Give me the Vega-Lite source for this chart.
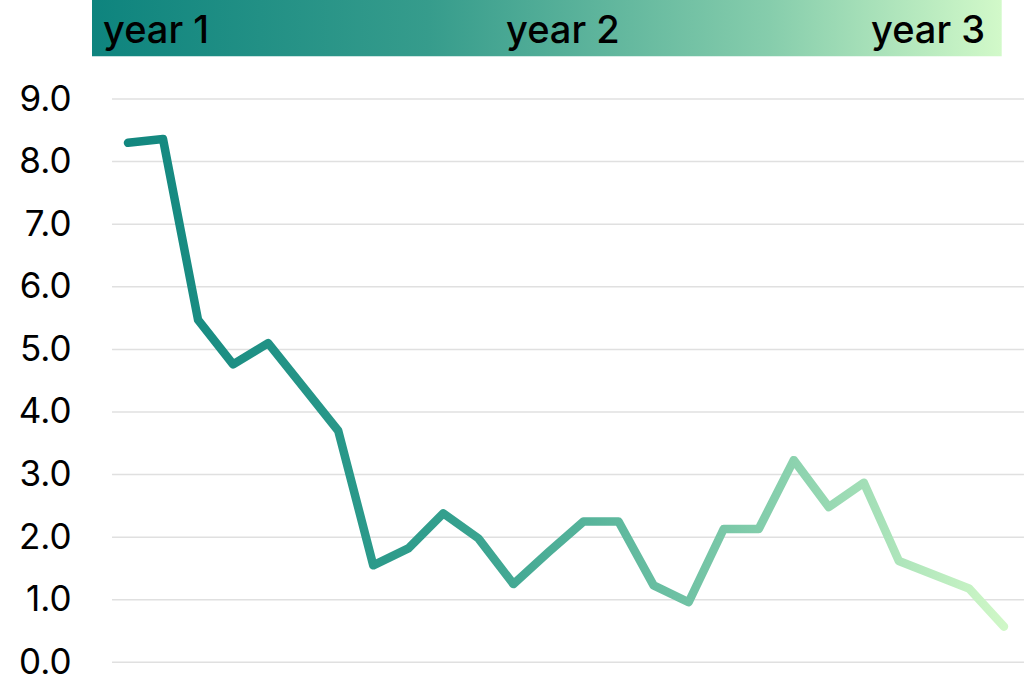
{
  "$schema": "https://vega.github.io/schema/vega-lite/v6.json",
  "width": 932,
  "height": 698,
  "autosize": {"type": "none"},
  "padding": {"left": 92, "top": 0, "right": 0, "bottom": 0},
  "background": "white",
  "config": {"view": {"stroke": null}, "font": "Inter"},
  "datasets": {
    "series": [
      {"x": 0, "y": 8.30}, {"x": 1, "y": 8.36}, {"x": 2, "y": 5.47}, {"x": 3, "y": 4.76},
      {"x": 4, "y": 5.10}, {"x": 5, "y": 4.40}, {"x": 6, "y": 3.70}, {"x": 7, "y": 1.55},
      {"x": 8, "y": 1.82}, {"x": 9, "y": 2.38}, {"x": 10, "y": 1.98}, {"x": 11, "y": 1.25},
      {"x": 12, "y": 1.76}, {"x": 13, "y": 2.25}, {"x": 14, "y": 2.25}, {"x": 15, "y": 1.23},
      {"x": 16, "y": 0.96}, {"x": 17, "y": 2.13}, {"x": 18, "y": 2.13}, {"x": 19, "y": 3.23},
      {"x": 20, "y": 2.48}, {"x": 21, "y": 2.87}, {"x": 22, "y": 1.62}, {"x": 23, "y": 1.40},
      {"x": 24, "y": 1.18}, {"x": 25, "y": 0.57}
    ],
    "grid": [
      {"y": 0, "x": -0.456, "x2": 25.57}, {"y": 1, "x": -0.456, "x2": 25.57},
      {"y": 2, "x": -0.456, "x2": 25.57}, {"y": 3, "x": -0.456, "x2": 25.57},
      {"y": 4, "x": -0.456, "x2": 25.57}, {"y": 5, "x": -0.456, "x2": 25.57},
      {"y": 6, "x": -0.456, "x2": 25.57}, {"y": 7, "x": -0.456, "x2": 25.57},
      {"y": 8, "x": -0.456, "x2": 25.57}, {"y": 9, "x": -0.456, "x2": 25.57}
    ],
    "banner": [{"x": -1.027, "x2": 24.935, "y": 10.582, "y2": 9.682}],
    "labels": [
      {"label": "year 1", "x": -0.713, "y": 9.89},
      {"label": "year 2", "x": 10.788, "y": 9.89},
      {"label": "year 3", "x": 21.205, "y": 9.89}
    ]
  },
  "layer": [
    {
      "data": {"name": "grid"},
      "mark": {"type": "rule", "stroke": "#e0e0e0", "strokeWidth": 1.5},
      "encoding": {
        "x": {"field": "x", "type": "quantitative", "scale": {"domain": [-1.027, 25.571], "nice": false, "zero": false}, "axis": null},
        "x2": {"field": "x2"},
        "y": {"field": "y", "type": "quantitative", "scale": {"domain": [-0.570, 10.582], "nice": false, "zero": false},
          "axis": {"title": null, "values": [0, 1, 2, 3, 4, 5, 6, 7, 8, 9], "format": ".1f", "domain": false, "ticks": false, "tickSize": 0, "grid": false, "labelPadding": 21, "labelFontSize": 35, "labelColor": "#000000", "labelFont": "Inter", "labelFontWeight": 400}}
      }
    },
    {
      "data": {"name": "banner"},
      "mark": {"type": "rect", "fill": {"gradient": "linear", "x1": 0, "x2": 1, "y1": 0, "y2": 0,
        "stops": [
          {"offset": 0, "color": "#0e847e"},
          {"offset": 0.37, "color": "#369c8c"},
          {"offset": 0.745, "color": "#86cdac"},
          {"offset": 1, "color": "#d2f9c9"}
        ]}},
      "encoding": {
        "x": {"field": "x", "type": "quantitative"},
        "x2": {"field": "x2"},
        "y": {"field": "y", "type": "quantitative"},
        "y2": {"field": "y2"}
      }
    },
    {
      "data": {"name": "labels"},
      "mark": {"type": "text", "align": "left", "baseline": "alphabetic", "fontSize": 38, "font": "Inter", "fontWeight": 500, "color": "#000000"},
      "encoding": {
        "x": {"field": "x", "type": "quantitative"},
        "y": {"field": "y", "type": "quantitative"},
        "text": {"field": "label"}
      }
    },
    {
      "data": {"name": "series"},
      "mark": {"type": "line", "strokeWidth": 8.5, "strokeCap": "round", "strokeJoin": "round",
        "stroke": {"gradient": "linear", "x1": 0, "x2": 1, "y1": 0, "y2": 0,
          "stops": [
            {"offset": 0, "color": "#12877f"},
            {"offset": 0.37, "color": "#34a08e"},
            {"offset": 0.745, "color": "#88d0ad"},
            {"offset": 1, "color": "#cff7c7"}
          ]}},
      "encoding": {
        "x": {"field": "x", "type": "quantitative"},
        "y": {"field": "y", "type": "quantitative"}
      }
    }
  ]
}
